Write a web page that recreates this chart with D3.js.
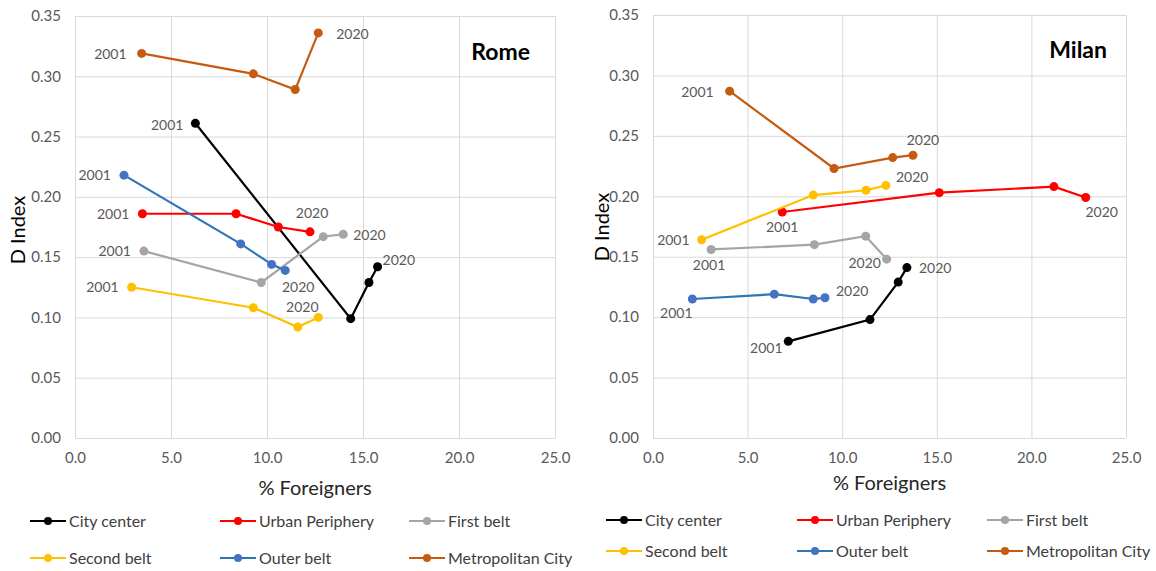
<!DOCTYPE html>
<html>
<head>
<meta charset="utf-8">
<script src="https://cdn.jsdelivr.net/npm/d3@7"></script>
<style>
    body { margin: 0; background: #fff; }
    svg text { font-family: Lato, "Liberation Sans", sans-serif; }
</style>
</head>
<body>
<div id="chart_container"></div>
<script>
// series, in legend order
var seriesNames = ["City center", "Urban Periphery", "First belt", "Second belt", "Outer belt", "Metropolitan City"];
var years = ["2001", "2020"];
var xTicks = [0, 5, 10, 15, 20, 25];
var yTicks = [0, 0.05, 0.10, 0.15, 0.20, 0.25, 0.30, 0.35];

// Rome: % foreigners (x) and D index (y), one row per series
var romeForeigners = [
    [6.27, 14.36, 15.31, 15.76],
    [3.51, 8.39, 10.59, 12.24],
    [3.59, 9.70, 12.93, 13.97],
    [2.95, 9.29, 11.60, 12.67],
    [2.55, 8.63, 10.24, 10.95],
    [3.47, 9.29, 11.47, 12.67]
];
var romeDIndex = [
    [0.261, 0.099, 0.129, 0.142],
    [0.186, 0.186, 0.175, 0.171],
    [0.155, 0.129, 0.167, 0.169],
    [0.125, 0.108, 0.092, 0.100],
    [0.218, 0.161, 0.144, 0.139],
    [0.319, 0.302, 0.289, 0.336]
];

// Milan
var milanForeigners = [
    [7.15, 11.47, 12.96, 13.42],
    [6.83, 15.13, 21.19, 22.87],
    [3.07, 8.53, 11.24, 12.35],
    [2.57, 8.47, 11.26, 12.31],
    [2.08, 6.41, 8.47, 9.09],
    [4.05, 9.57, 12.67, 13.74]
];
var milanDIndex = [
    [0.080, 0.098, 0.129, 0.141],
    [0.187, 0.203, 0.208, 0.199],
    [0.156, 0.160, 0.167, 0.148],
    [0.164, 0.201, 0.205, 0.209],
    [0.115, 0.119, 0.115, 0.116],
    [0.287, 0.223, 0.232, 0.234]
];

var lineColors = ["#000000", "#ff0000", "#a5a5a5", "#ffc000", "#2e75b6", "#c55a11"];
var dotColors = ["#000000", "#ff0000", "#a5a5a5", "#ffc000", "#4472c4", "#c55a11"];

var svg = d3.select("#chart_container").append("svg")
    .attr("width", 1156)
    .attr("height", 571);

// year label placement: [dx, dy, anchor] for first and last point of each series
var romeLabelPos = {
    first: [[-12, 2, "end"], [-13, 0, "end"], [-13, 0, "end"], [-13, 0, "end"], [-13, 0, "end"], [-15, 1, "end"]],
    last: [[5, -7, "start"], [2, -19, "middle"], [10, 1, "start"], [-16, -10, "middle"], [13, 17, "middle"], [18, 1, "start"]]
};
var milanLabelPos = {
    first: [[-22, 7, "middle"], [0, 15, "middle"], [-2, 16, "middle"], [-12, 0, "end"], [-16, 14, "middle"], [-16, 1, "end"]],
    last: [[12, 1, "start"], [16, 15, "middle"], [-22, 4, "middle"], [10, -8, "start"], [11, -7, "start"], [10, -15, "middle"]]
};

drawPanel({
    title: "Rome", left: 75, right: 555, top: 16, bottom: 438,
    xs: romeForeigners, ys: romeDIndex, labelPos: romeLabelPos,
    yTitleX: 18, yTitleY: 230, xTitleY: 488,
    titleX: 530, titleY: 52,
    legendCols: [30, 220, 409], legendLine: 36, legendRows: [521, 558]
});

drawPanel({
    title: "Milan", left: 653, right: 1126, top: 15, bottom: 438,
    xs: milanForeigners, ys: milanDIndex, labelPos: milanLabelPos,
    yTitleX: 602, yTitleY: 227, xTitleY: 483,
    titleX: 1107, titleY: 50,
    legendCols: [606, 797, 987], legendLine: 36, legendRows: [520, 551]
});

function drawPanel(p) {
    var width = p.right - p.left,
        height = p.bottom - p.top;

    var x = d3.scaleLinear().domain([0, 25]).range([0, width]);
    var y = d3.scaleLinear().domain([0, 0.35]).range([height, 0]);

    var g = svg.append("g")
        .attr("transform", "translate(" + p.left + "," + p.top + ")");

    // x axis with vertical grid
    var xAxis = g.append("g")
        .attr("transform", "translate(0," + height + ")")
        .call(d3.axisBottom(x).tickValues(xTicks).tickFormat(d3.format(".1f"))
            .tickSizeInner(-height).tickSizeOuter(0).tickPadding(14));
    xAxis.select(".domain").remove();
    xAxis.selectAll("line").attr("stroke", "#d9d9d9");
    xAxis.selectAll("text").attr("fill", "#595959").style("font-size", "15px");

    // y axis with horizontal grid
    var yAxis = g.append("g")
        .call(d3.axisLeft(y).tickValues(yTicks).tickFormat(d3.format(".2f"))
            .tickSizeInner(-width).tickSizeOuter(0).tickPadding(14));
    yAxis.select(".domain").remove();
    yAxis.selectAll("line").attr("stroke", "#d9d9d9");
    yAxis.selectAll("text").attr("fill", "#595959").style("font-size", "15px");

    // axis titles
    svg.append("text")
        .attr("x", p.left + width / 2)
        .attr("y", p.xTitleY)
        .attr("text-anchor", "middle")
        .attr("dy", "0.35em")
        .attr("fill", "#262626")
        .style("font-size", "20px")
        .text("% Foreigners");

    svg.append("text")
        .attr("transform", "translate(" + p.yTitleX + "," + p.yTitleY + ") rotate(-90)")
        .attr("text-anchor", "middle")
        .attr("dy", "0.35em")
        .attr("fill", "#000")
        .style("font-size", "20px")
        .text("D Index");

    // chart title
    svg.append("text")
        .attr("x", p.titleX)
        .attr("y", p.titleY)
        .attr("text-anchor", "end")
        .attr("dy", "0.35em")
        .attr("fill", "#000")
        .style("font-size", "23px")
        .style("font-weight", "bold")
        .text(p.title);

    var line = d3.line()
        .x(function (d) { return x(d[0]); })
        .y(function (d) { return y(d[1]); });

    seriesNames.forEach(function (name, i) {
        var pts = p.xs[i].map(function (v, j) {
            return [v, p.ys[i][j]];
        });

        g.append("path")
            .datum(pts)
            .attr("fill", "none")
            .attr("stroke", lineColors[i])
            .attr("stroke-width", 2.2)
            .attr("d", line);

        g.selectAll(".dot" + i)
            .data(pts)
            .enter().append("circle")
            .attr("class", "dot" + i)
            .attr("cx", function (d) { return x(d[0]); })
            .attr("cy", function (d) { return y(d[1]); })
            .attr("r", 4.5)
            .attr("fill", dotColors[i]);

        // year labels at first and last point
        [pts[0], pts[pts.length - 1]].forEach(function (d, k) {
            var pos = k === 0 ? p.labelPos.first[i] : p.labelPos.last[i];
            g.append("text")
                .attr("x", x(d[0]) + pos[0])
                .attr("y", y(d[1]) + pos[1])
                .attr("dy", "0.35em")
                .attr("text-anchor", pos[2])
                .attr("fill", "#595959")
                .style("font-size", "14px")
                .text(years[k]);
        });

        // legend entry
        var lx = p.legendCols[i % 3],
            ly = p.legendRows[Math.floor(i / 3)];
        var item = svg.append("g").attr("transform", "translate(" + lx + "," + ly + ")");
        item.append("line")
            .attr("x1", 0).attr("x2", p.legendLine)
            .attr("stroke", lineColors[i])
            .attr("stroke-width", 2.2);
        item.append("circle")
            .attr("cx", p.legendLine / 2)
            .attr("r", 4)
            .attr("fill", dotColors[i]);
        item.append("text")
            .attr("x", p.legendLine + 3)
            .attr("dy", "0.35em")
            .attr("fill", "#404040")
            .style("font-size", "16px")
            .text(name);
    });
}
</script>
</body>
</html>
